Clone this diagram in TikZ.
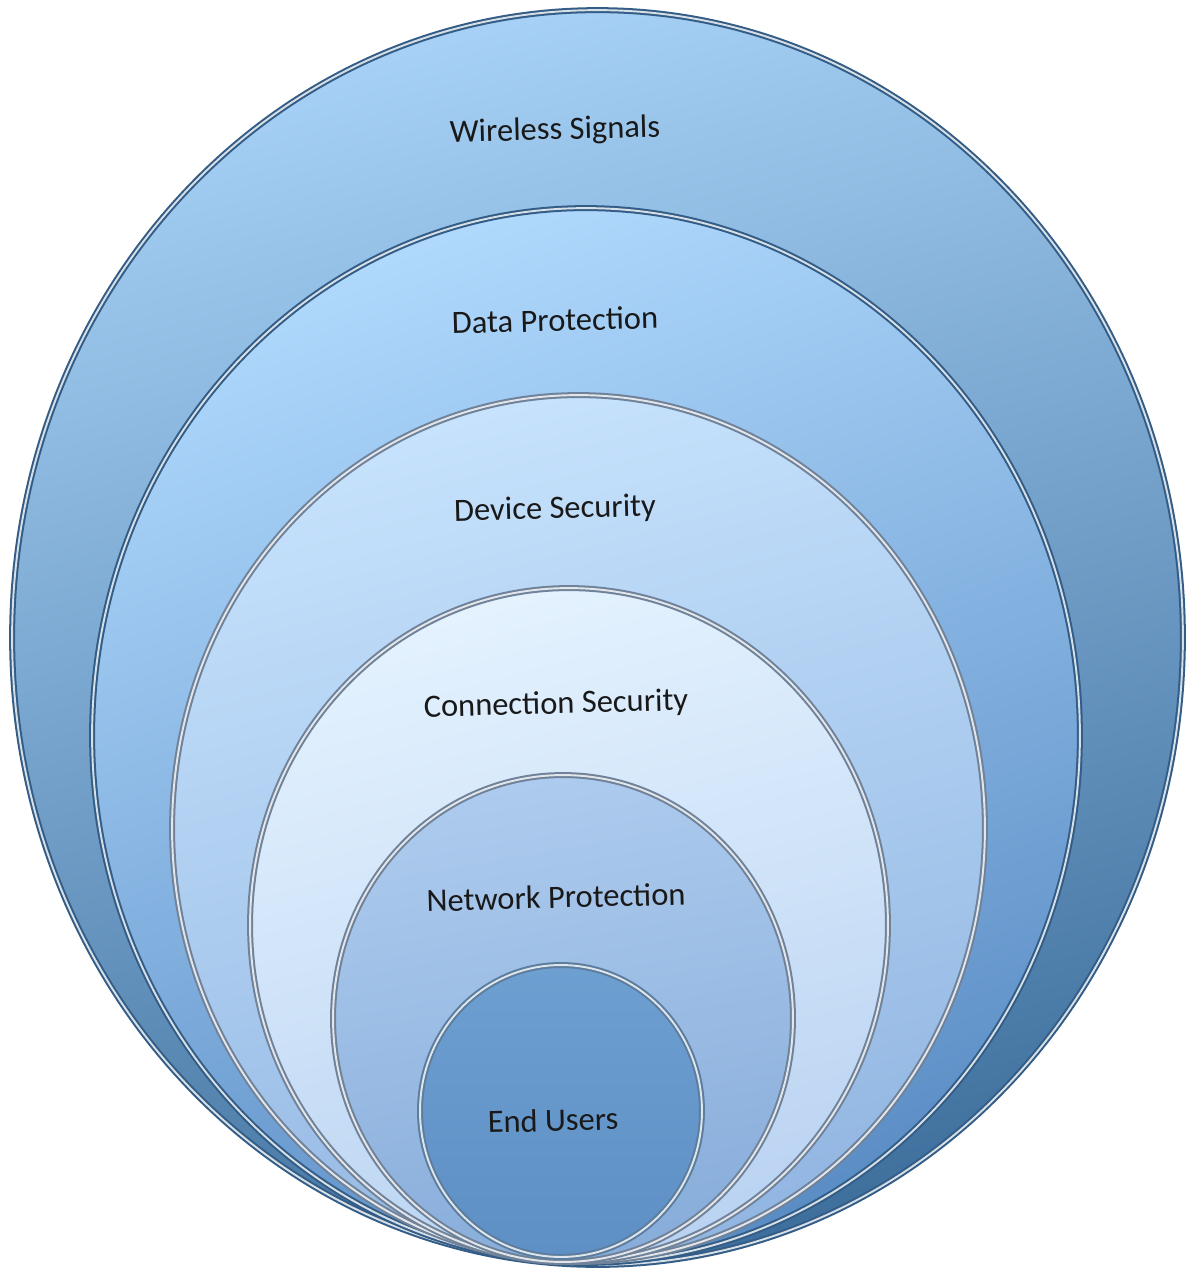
\documentclass[tikz,border=0pt]{standalone}
\usepackage{fontspec}
\setmainfont{Carlito}
\usepackage{tikz}
\usetikzlibrary{shapes.geometric}

\definecolor{wsTop}{HTML}{A6D0F5}
\definecolor{wsBot}{HTML}{3F709D}
\definecolor{dpTop}{HTML}{AFD8FC}
\definecolor{dpBot}{HTML}{5B8DC5}
\definecolor{dsTop}{HTML}{C6E2FC}
\definecolor{dsBot}{HTML}{92B6E2}
\definecolor{csTop}{HTML}{E4F2FE}
\definecolor{csBot}{HTML}{BAD3F2}
\definecolor{npTop}{HTML}{ADCBEE}
\definecolor{npBot}{HTML}{88ADDA}
\definecolor{euTop}{HTML}{6E9FD1}
\definecolor{euBot}{HTML}{5E8FC5}
\definecolor{rimDark}{HTML}{335D86}
\definecolor{rimGrey}{HTML}{6F8299}

\begin{document}
\begin{tikzpicture}[
        x=0.02cm, y=-0.02cm,
        font=\fontsize{18.5}{22}\selectfont,
        layer/.style={ellipse, inner sep=0pt, outer sep=0pt, line width=3.4pt,
            postaction={draw=white, draw opacity=0.8, line width=1.1pt}},
        caption/.style={text=black!90, rotate=1.5}
    ]
        \useasboundingbox (0,0) rectangle (1187,1272);

        \node[layer, draw=rimDark, top color=wsTop, bottom color=wsBot, shading angle=15,
              minimum width=23.42cm, minimum height=25.10cm] (wireless) at (597.5,637.5) {};
        \node[layer, draw=rimDark, top color=dpTop, bottom color=dpBot, shading angle=20,
              minimum width=19.76cm, minimum height=21.10cm] (data) at (586,735.5) {};
        \node[layer, draw=rimGrey, top color=dsTop, bottom color=dsBot, shading angle=15,
              minimum width=16.26cm, minimum height=17.34cm] (device) at (578.5,828.5) {};
        \node[layer, draw=rimGrey, top color=csTop, bottom color=csBot, shading angle=15,
              minimum width=12.76cm, minimum height=13.48cm] (connection) at (569,925) {};
        \node[layer, draw=rimGrey, top color=npTop, bottom color=npBot, shading angle=10,
              minimum width=9.20cm, minimum height=9.74cm] (network) at (563,1018.5) {};
        \node[layer, draw=rimDark!80, top color=euTop, bottom color=euBot,
              minimum width=5.64cm, minimum height=5.84cm] (endusers) at (561,1111) {};

        \node[caption] (wirelessText) at (555,131) {Wireless Signals};
        \node[caption] (dataText) at (555,320) {Data Protection};
        \node[caption] (deviceText) at (555,510) {Device Security};
        \node[caption] (connectionText) at (556,705) {Connection Security};
        \node[caption] (networkText) at (556,897) {Network Protection};
        \node[caption] (endusersText) at (553,1120) {End Users};
    \end{tikzpicture}
\end{document}
